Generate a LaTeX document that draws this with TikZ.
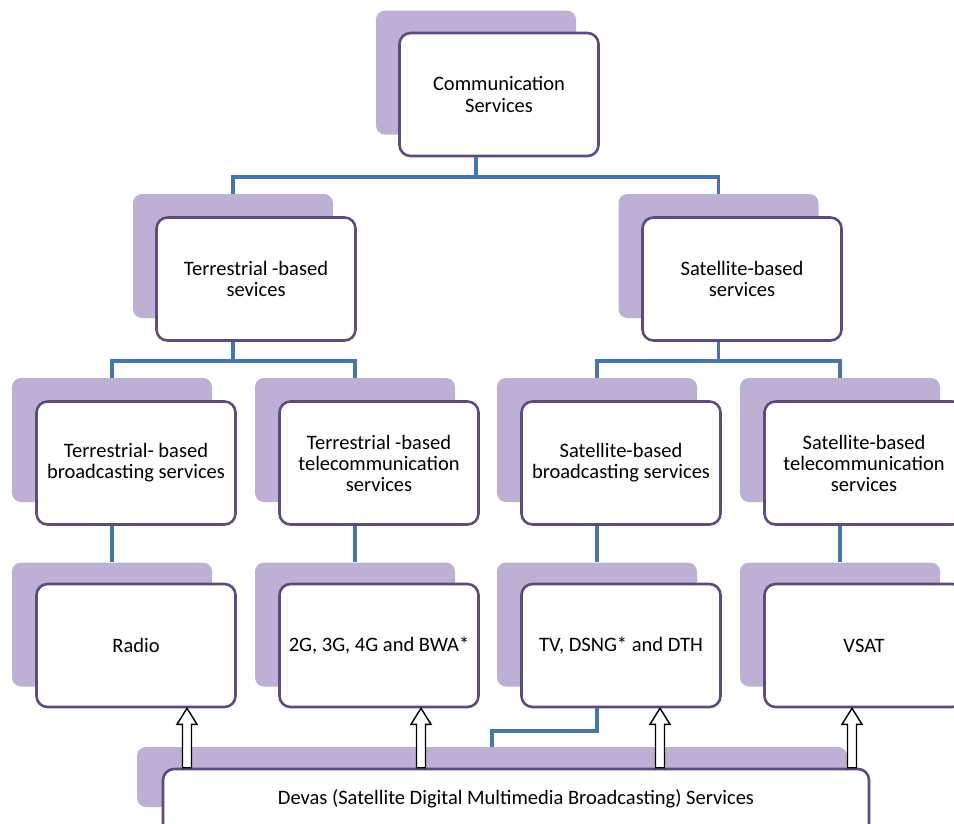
\documentclass[tikz,border=0pt]{standalone}
\usepackage{fontspec}
\setmainfont{Carlito}
\usetikzlibrary{calc}

\definecolor{backfill}{RGB}{190,175,212}
\definecolor{frameline}{RGB}{94,74,124}
\definecolor{linkblue}{RGB}{70,118,172}

\newcommand{\hollowup}[2]{%
  \draw[hollowarrow] ($(#1)+(-4.5,0)$) -- ($(#2)+(-4.5,16)$) -- ($(#2)+(-10,16)$)
    -- (#2) -- ($(#2)+(10,16)$) -- ($(#2)+(4.5,16)$) -- ($(#1)+(4.5,0)$) -- cycle;}

\begin{document}
\begin{tikzpicture}[x=1pt,y=-1pt]
\tikzset{
  backbox/.style={rectangle,rounded corners=9pt,fill=backfill,minimum width=200pt,minimum height=124pt,inner sep=0pt},
  frontbox/.style={rectangle,rounded corners=11pt,draw=frameline,line width=2.6pt,fill=white,minimum width=199pt,minimum height=123pt,align=center,inner sep=2pt,font=\fontsize{20.5}{21}\selectfont},
  backwide/.style={backbox,minimum width=710pt,minimum height=60pt},
  frontwide/.style={frontbox,minimum width=706pt,minimum height=76pt,text depth=20pt},
  link/.style={draw=linkblue,line width=3.5pt},
  hollowarrow/.style={draw=black,fill=white,line width=1.4pt,line join=miter}
}
\useasboundingbox (0,0) rectangle (954,823);
\clip (0,0) rectangle (954,823);

\node[backbox] (b_top) at (476,72.5) {};
\node[frontbox,font=\fontsize{20.5}{22}\selectfont] (n_top) at (499,94.5) {Communication\\Services};

\node[backbox] (b_ter) at (233,256) {};
\node[frontbox] (n_ter) at (256,279) {Terrestrial -based\\sevices};
\node[backbox] (b_sat) at (718.5,256) {};
\node[frontbox] (n_sat) at (742,279) {Satellite-based\\services};

\node[backbox] (b_tbc) at (112,440) {};
\node[frontbox] (n_tbc) at (136,463) {Terrestrial- based\\broadcasting services};
\node[backbox] (b_ttc) at (355,440) {};
\node[frontbox] (n_ttc) at (379,463) {Terrestrial -based\\telecommunication\\services};
\node[backbox] (b_sbc) at (597,440) {};
\node[frontbox] (n_sbc) at (621,463) {Satellite-based\\broadcasting services};
\node[backbox] (b_stc) at (840,440) {};
\node[frontbox] (n_stc) at (864,463) {Satellite-based\\telecommunication\\services};

\node[backbox] (b_radio) at (112,624.5) {};
\node[frontbox] (n_radio) at (136,645.5) {Radio};
\node[backbox] (b_mob) at (355,624.5) {};
\node[frontbox] (n_mob) at (379,645.5) {2G, 3G, 4G and BWA*};
\node[backbox] (b_tv) at (597,624.5) {};
\node[frontbox] (n_tv) at (621,645.5) {TV, DSNG* and DTH};
\node[backbox] (b_vsat) at (840,624.5) {};
\node[frontbox] (n_vsat) at (864,645.5) {VSAT};

\node[backwide] (b_devas) at (492,777) {};

\coordinate (bus_top) at (0,177);
\coordinate (bus_mid) at (0,361);
\coordinate (bus_tv) at (0,731);
\draw[link] (b_top |- n_top.south) -- (b_top |- bus_top);
\draw[link] (b_ter.north) |- (b_top |- bus_top) -| (b_sat.north);
\draw[link] (b_ter |- n_ter.south) -- (b_ter |- bus_mid);
\draw[link] (b_tbc.north) |- (b_ter |- bus_mid) -| (b_ttc.north);
\draw[link] (b_sat |- n_sat.south) -- (b_sat |- bus_mid);
\draw[link] (b_sbc.north) |- (b_sat |- bus_mid) -| (b_stc.north);
\draw[link] (b_tbc |- n_tbc.south) -- (b_radio.north);
\draw[link] (b_ttc |- n_ttc.south) -- (b_mob.north);
\draw[link] (b_sbc |- n_sbc.south) -- (b_tv.north);
\draw[link] (b_stc |- n_stc.south) -- (b_vsat.north);
\draw[link] (b_tv |- n_tv.south) |- (b_devas |- bus_tv) -- (b_devas.north);

\node[frontwide] (n_devas) at (516,807) {Devas (Satellite Digital Multimedia Broadcasting) Services};

\foreach \xx/\tgt [count=\i] in {187/n_radio,421/n_mob,660/n_tv,852/n_vsat}{
  \coordinate (s\i) at (n_devas.north -| \xx,0);
  \coordinate (e\i) at (\tgt.south -| \xx,0);
  \hollowup{s\i}{e\i}
}
\end{tikzpicture}
\end{document}
